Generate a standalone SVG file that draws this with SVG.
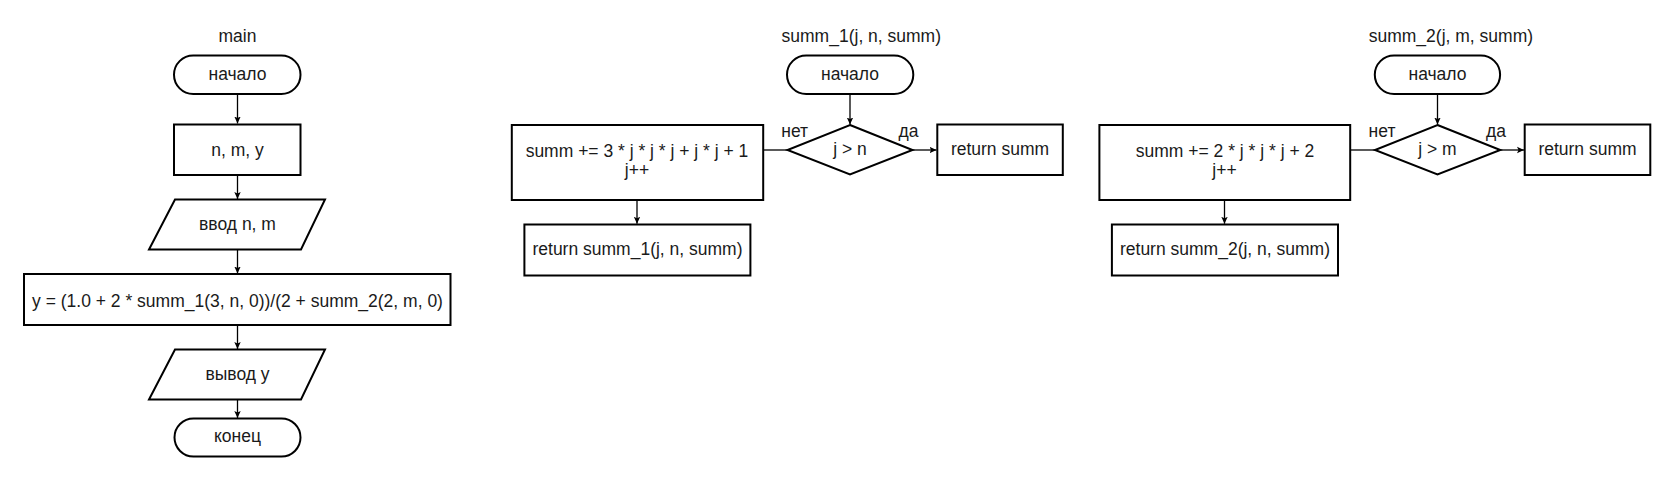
<svg xmlns="http://www.w3.org/2000/svg" width="1675" height="481" viewBox="0 0 1675 481">
<style>
.s{fill:#fff;stroke:#000;stroke-width:2}
.c{fill:none;stroke:#000;stroke-width:1.3}
.t{font-family:"Liberation Sans",Arial,sans-serif;fill:#1a1a1a;text-anchor:middle;font-size:17.5px}
</style>
<defs>
<marker id="a" markerWidth="8" markerHeight="8" refX="7" refY="4" orient="auto" markerUnits="userSpaceOnUse">
<path d="M0,0.8 L7,4 L0,7.2 L1.5,4 Z" fill="#000"/>
</marker>
</defs>
<rect width="1675" height="481" fill="#fff"/>
<g id="connectors">
<line class="c" x1="237.5" y1="94" x2="237.5" y2="123.5" marker-end="url(#a)"/>
<line class="c" x1="237.5" y1="175" x2="237.5" y2="199" marker-end="url(#a)"/>
<line class="c" x1="237.5" y1="249.5" x2="237.5" y2="273.5" marker-end="url(#a)"/>
<line class="c" x1="237.5" y1="325" x2="237.5" y2="349" marker-end="url(#a)"/>
<line class="c" x1="237.5" y1="399.5" x2="237.5" y2="418" marker-end="url(#a)"/>
<line class="c" x1="850" y1="94" x2="850" y2="124.5" marker-end="url(#a)"/>
<line class="c" x1="787.5" y1="150" x2="763.2" y2="150"/>
<line class="c" x1="912.5" y1="150" x2="936.5" y2="150" marker-end="url(#a)"/>
<line class="c" x1="637" y1="200" x2="637" y2="223.8" marker-end="url(#a)"/>
<line class="c" x1="1437.5" y1="94" x2="1437.5" y2="124.5" marker-end="url(#a)"/>
<line class="c" x1="1375" y1="150" x2="1350.2" y2="150"/>
<line class="c" x1="1500.3" y1="150" x2="1524" y2="150" marker-end="url(#a)"/>
<line class="c" x1="1224.5" y1="200" x2="1224.5" y2="223.8" marker-end="url(#a)"/>
</g>
<g id="title-main"><text class="t" x="237.5" y="41.5">main</text></g>
<g id="main-start"><rect class="s" x="174" y="55.5" width="126.5" height="38.5" rx="19.25"/><text class="t" x="237.5" y="80">начало</text></g>
<g id="main-vars"><rect class="s" x="174" y="124.5" width="126.5" height="50.5"/><text class="t" x="237.5" y="155.5">n, m, y</text></g>
<g id="main-input"><polygon class="s" points="175,199.5 325,199.5 301,249.5 149,249.5"/><text class="t" x="237.5" y="230">ввод n, m</text></g>
<g id="main-calc"><rect class="s" x="24" y="274" width="426.5" height="51"/><text class="t" x="237.5" y="306.5">y = (1.0 + 2 * summ_1(3, n, 0))/(2 + summ_2(2, m, 0)</text></g>
<g id="main-output"><polygon class="s" points="175,349.5 325,349.5 301,399.5 149,399.5"/><text class="t" x="237.5" y="380">вывод y</text></g>
<g id="main-end"><rect class="s" x="174.5" y="418.5" width="126" height="38" rx="19"/><text class="t" x="237.5" y="441.5">конец</text></g>

<g id="title-summ1"><text class="t" x="861.3" y="41.5">summ_1(j, n, summ)</text></g>
<g id="s1-start"><rect class="s" x="787" y="55.5" width="126.3" height="38.5" rx="19.25"/><text class="t" x="850" y="80">начало</text></g>
<g id="s1-cond"><polygon class="s" points="850,125 912.5,150 850,174.5 787.5,150"/><text class="t" x="850" y="155">j &gt; n</text><text class="t" x="794.7" y="136.5">нет</text><text class="t" x="908.6" y="136.5">да</text></g>
<g id="s1-step"><rect class="s" x="511.8" y="125" width="251.4" height="75"/><text class="t" x="637" y="156.5">summ += 3 * j * j * j + j * j + 1</text><text class="t" x="637" y="176">j++</text></g>
<g id="s1-ret"><rect class="s" x="937.3" y="124.5" width="125.5" height="50.5"/><text class="t" x="1000" y="155">return summ</text></g>
<g id="s1-rec"><rect class="s" x="524.4" y="224.5" width="226" height="51"/><text class="t" x="637.5" y="255">return summ_1(j, n, summ)</text></g>

<g id="title-summ2"><text class="t" x="1450.9" y="41.5">summ_2(j, m, summ)</text></g>
<g id="s2-start"><rect class="s" x="1374.8" y="55.5" width="125.3" height="38.5" rx="19.25"/><text class="t" x="1437.5" y="80">начало</text></g>
<g id="s2-cond"><polygon class="s" points="1437.5,125 1500.3,150 1437.5,174.5 1375,150"/><text class="t" x="1437.5" y="155">j &gt; m</text><text class="t" x="1382" y="136.5">нет</text><text class="t" x="1495.9" y="136.5">да</text></g>
<g id="s2-step"><rect class="s" x="1099.4" y="125" width="250.8" height="75"/><text class="t" x="1225" y="156.5">summ += 2 * j * j * j + 2</text><text class="t" x="1224.5" y="176">j++</text></g>
<g id="s2-ret"><rect class="s" x="1524.7" y="124.5" width="125.6" height="50.5"/><text class="t" x="1587.5" y="155">return summ</text></g>
<g id="s2-rec"><rect class="s" x="1111.9" y="224.5" width="226.1" height="51"/><text class="t" x="1225" y="255">return summ_2(j, n, summ)</text></g>
</svg>
